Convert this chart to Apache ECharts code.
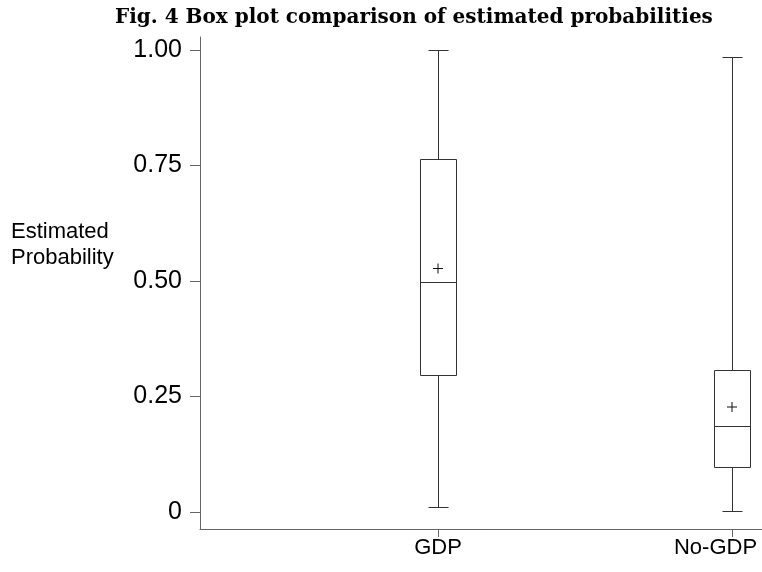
<!DOCTYPE html>
<html>
<head>
<meta charset="utf-8">
<script src="https://cdn.jsdelivr.net/npm/echarts@6/dist/echarts.min.js"></script>
<style>
  html, body { margin: 0; padding: 0; background: #fff; }
  #chart { width: 762px; height: 572px; }
</style>
</head>
<body>
<div id="chart"></div>
<script>
// values
var categories = ['GDP', 'No-GDP'];
var whiskerLow = [0.011, 0.003];
var quartile1 = [0.297, 0.097];
var medians = [0.497, 0.185];
var quartile3 = [0.763, 0.308];
var whiskerHigh = [1.0, 0.985];
var means = [0.527, 0.227];
var yTicks = [0, 0.25, 0.5, 0.75, 1];

var boxData = categories.map(function (c, i) {
    return [i, whiskerLow[i], quartile1[i], medians[i], quartile3[i], whiskerHigh[i]];
});
var meanData = categories.map(function (c, i) {
    return [i, means[i]];
});

var axisColor = '#666';
var lineColor = '#333';
var yMin = -0.037, yMax = 1.028;

function px(v) {
    return Math.round(v) + 0.5;
}

// box with narrower whisker caps than the box itself
function renderBox(params, api) {
    var x = api.value(0);
    var pMin = api.coord([x, api.value(1)]);
    var pQ1 = api.coord([x, api.value(2)]);
    var pMed = api.coord([x, api.value(3)]);
    var pQ3 = api.coord([x, api.value(4)]);
    var pMax = api.coord([x, api.value(5)]);
    var cx = px(pMed[0]);
    var hw = 18, cw = 10;
    var st = {stroke: lineColor, lineWidth: 1, fill: null};
    var line = function (x1, y1, x2, y2) {
        return {type: 'line', shape: {x1: x1, y1: y1, x2: x2, y2: y2}, style: st};
    };
    var yMx = px(pMax[1]), yQ3 = px(pQ3[1]), yMd = px(pMed[1]), yQ1 = px(pQ1[1]), yMn = px(pMin[1]);
    return {
        type: 'group',
        children: [
            line(cx, yMx, cx, yQ3),
            line(cx, yQ1, cx, yMn),
            line(cx - cw, yMx, cx + cw, yMx),
            line(cx - cw, yMn, cx + cw, yMn),
            {type: 'rect', shape: {x: cx - hw, y: yQ3, width: hw * 2, height: yQ1 - yQ3},
                style: {stroke: lineColor, lineWidth: 1, fill: 'transparent'}},
            line(cx - hw, yMd, cx + hw, yMd)
        ]
    };
}

var chart = echarts.init(document.getElementById('chart'));

var option = {
    animation: false,
    title: {
        text: 'Fig. 4 Box plot comparison of estimated probabilities',
        left: 110,
        top: 3,
        textStyle: {
            fontFamily: 'DejaVu Serif',
            fontWeight: 'bold',
            fontSize: 20,
            color: '#000'
        }
    },
    graphic: [{
        type: 'text',
        left: 11,
        top: 219,
        style: {
            text: 'Estimated\nProbability',
            font: '22px "Liberation Sans", Arial, sans-serif',
            lineHeight: 26,
            fill: '#000'
        }
    }],
    grid: [
        {left: 200, right: 0, top: 37, bottom: 43, containLabel: false, outerBoundsMode: 'none'},
        {left: 291, width: 588, top: 37, bottom: 43, containLabel: false, outerBoundsMode: 'none'}
    ],
    xAxis: [
        {
            gridIndex: 0, type: 'value', min: 0, max: 1,
            axisLine: {show: true, onZero: false, lineStyle: {color: axisColor}},
            axisTick: {show: false}, axisLabel: {show: false}, splitLine: {show: false}
        },
        {
            gridIndex: 1, type: 'category', data: categories, boundaryGap: true,
            axisLine: {show: false, onZero: false},
            axisTick: {show: true, alignWithLabel: true, length: 8, lineStyle: {color: axisColor}},
            axisLabel: {
                margin: 8, fontSize: 22, color: '#000', fontFamily: 'Liberation Sans',
                // last label is pulled in so it stays on the page
                formatter: function (v, i) {
                    return i === categories.length - 1 ? '{edge|' + v + '}' : v;
                },
                rich: {
                    edge: {fontSize: 22, color: '#000', fontFamily: 'Liberation Sans', padding: [0, 33, 0, 0]}
                }
            },
            splitLine: {show: false}
        }
    ],
    yAxis: [
        {
            gridIndex: 0, type: 'value', min: yMin, max: yMax,
            axisLine: {show: true, onZero: false, lineStyle: {color: axisColor}},
            axisTick: {show: true, length: 10, customValues: yTicks, lineStyle: {color: axisColor}},
            axisLabel: {
                customValues: yTicks, margin: 18, fontSize: 25, color: '#000', fontFamily: 'Liberation Sans',
                formatter: function (v) { return v === 0 ? '0' : v.toFixed(2); }
            },
            splitLine: {show: false}
        },
        {
            gridIndex: 1, type: 'value', min: yMin, max: yMax, show: false
        }
    ],
    series: [
        {
            type: 'custom',
            xAxisIndex: 1, yAxisIndex: 1,
            renderItem: renderBox,
            encode: {x: 0, y: [1, 2, 3, 4, 5]},
            data: boxData
        },
        {
            type: 'scatter',
            xAxisIndex: 1, yAxisIndex: 1,
            symbol: 'path://M4.5,0h1v10h-1zM0,4.5h10v1h-10z',
            symbolSize: 10,
            itemStyle: {color: '#111', opacity: 1},
            data: meanData
        }
    ]
};

chart.setOption(option);
</script>
</body>
</html>
